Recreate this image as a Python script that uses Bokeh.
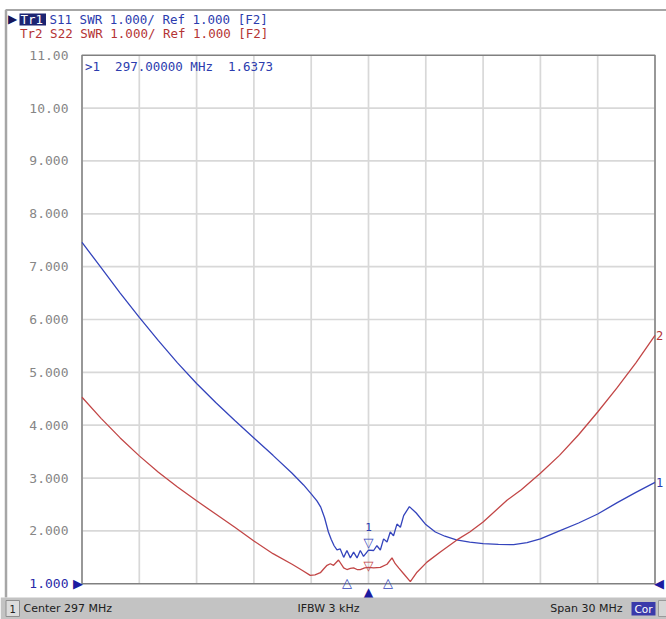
from bokeh.plotting import figure
from bokeh.models import Range1d
from bokeh.embed import file_html
from bokeh.resources import INLINE
from bokeh.core.properties import value

# ---------------- data ----------------
center_mhz = 297
span_mhz = 30
ifbw_khz = 3
f_start, f_stop = 282.0, 312.0
swr_min, swr_max = 1.0, 11.0

x_grid_ticks = [282, 285, 288, 291, 294, 297, 300, 303, 306, 309, 312]
y_grid_ticks = [2, 3, 4, 5, 6, 7, 8, 9, 10]
y_ticks = [2, 3, 4, 5, 6, 7, 8, 9, 10, 11]
y_tick_labels = ["2.000", "3.000", "4.000", "5.000", "6.000", "7.000",
                 "8.000", "9.000", "10.00", "11.00"]
y_ref_label = "1.000"

s11_freq = [282.0, 283.0, 284.0, 285.0, 286.0, 287.0, 288.0, 289.0, 290.0, 291.0,
            292.0, 293.0, 293.6, 294.0, 294.3, 294.5, 294.7, 294.9, 295.05, 295.2,
            295.35, 295.52, 295.7, 295.87, 296.05, 296.22, 296.4, 296.57, 296.74, 297.0,
            297.27, 297.44, 297.62, 297.79, 297.97, 298.14, 298.31, 298.49, 298.67, 298.84,
            299.14, 299.5, 300.0, 300.5, 301.0, 301.6, 302.3, 303.0, 303.8, 304.6,
            305.3, 306.0, 307.0, 308.0, 309.0, 310.0, 311.0, 312.0]
s11_swr = [7.46, 6.98, 6.50, 6.04, 5.60, 5.18, 4.79, 4.43, 4.09, 3.76,
           3.43, 3.09, 2.87, 2.70, 2.57, 2.45, 2.25, 1.98, 1.84, 1.72,
           1.64, 1.66, 1.50, 1.63, 1.49, 1.60, 1.49, 1.63, 1.52, 1.6373,
           1.63, 1.72, 1.64, 1.85, 1.79, 1.98, 1.91, 2.13, 2.07, 2.29,
           2.46, 2.34, 2.12, 1.98, 1.90, 1.83, 1.79, 1.76, 1.745, 1.74,
           1.78, 1.85, 2.00, 2.15, 2.32, 2.53, 2.73, 2.92]

s22_freq = [282.0, 283.0, 284.0, 285.0, 286.0, 287.0, 288.0, 289.0, 290.0, 291.0,
            292.0, 293.0, 293.5, 293.95, 294.2, 294.48, 294.65, 294.83, 295.0, 295.17,
            295.43, 295.7, 295.87, 296.05, 296.22, 296.4, 296.57, 296.8, 297.0, 297.27,
            297.62, 297.97, 298.23, 298.4, 298.58, 298.84, 299.19, 299.54, 300.06, 300.76,
            301.63, 302.3, 303.0, 304.25, 305.0, 306.0, 307.0, 308.0, 309.0, 310.0,
            311.0, 312.0]
s22_swr = [4.53, 4.13, 3.76, 3.42, 3.11, 2.83, 2.57, 2.32, 2.07, 1.81,
           1.57, 1.37, 1.26, 1.16, 1.17, 1.21, 1.28, 1.35, 1.38, 1.35,
           1.45, 1.30, 1.27, 1.29, 1.30, 1.27, 1.27, 1.30, 1.31, 1.30,
           1.31, 1.37, 1.49, 1.38, 1.30, 1.19, 1.04, 1.22, 1.41, 1.60,
           1.83, 1.98, 2.17, 2.58, 2.78, 3.09, 3.43, 3.82, 4.25, 4.70,
           5.18, 5.70]

marker_freq = 297.0
marker1_value = 1.6373
marker2_value = 1.31
delta_freqs = [295.87, 298.02]

# ---------------- styles / layout ----------------
BLUE = "#3444bc"
BLUE_TXT = "#2c3cae"
DARK_BLUE = "#1c1ca0"
RED = "#c24646"
RED_TXT = "#b43434"
GRID = "#d8d8d8"
MONO = "DejaVu Sans Mono"
SANS = "DejaVu Sans"
W, H = 666, 619                          # canvas size
FL, FR, FT, FB = 81.5, 654.5, 54.7, 583.3  # plot area edges in canvas pixels
kx = (FR - FL) / (f_stop - f_start)
ky = (FB - FT) / (swr_max - swr_min)


def X(px):
    """canvas pixel -> data x (for decorations outside the plot area)"""
    return f_start + (px - FL) / kx


def Y(py):
    """canvas pixel (from top) -> data y"""
    return swr_max - (py - FT) / ky


p = figure(width=W, height=H, x_range=Range1d(X(0), X(W)), y_range=Range1d(Y(H), Y(0)),
           x_axis_location=None, y_axis_location=None, min_border=0,
           toolbar_location=None, output_backend="svg", outline_line_color=None)
p.grid.visible = False
p.background_fill_color = "white"
p.border_fill_color = "white"


def txt(x, y, t, color, font=MONO, size="12.5px", align="left", baseline="middle",
        xo=0, yo=0):
    p.text(x=x, y=y, text=t, text_color=color, text_font=value(font),
           text_font_size=value(size), text_align=align, text_baseline=baseline,
           x_offset=xo, y_offset=yo)


# ---- outer panel lines ----
p.segment(x0=[X(5)], y0=[Y(9.5)], x1=[X(W)], y1=[Y(9.5)], line_color="#a6a6a6", line_width=2)
p.segment(x0=[X(5.5)], y0=[Y(9.5)], x1=[X(5.5)], y1=[Y(597)], line_color="#a6a6a6",
          line_width=2.5)

# ---- header ----
txt([X(7.5)], [Y(18.5)], ["\u25B6"], "#15155a", font=SANS, size="12px")
p.quad(left=[X(19)], right=[X(45.5)], top=[Y(13)], bottom=[Y(25)], fill_color="#1c2472",
       line_color=None)
txt([X(20)], [Y(19)], ["Tr1"], "white")
txt([X(49)], [Y(19)], ["S11 SWR 1.000/ Ref 1.000 [F2]"], BLUE_TXT)
txt([X(19.5)], [Y(32.5)], ["Tr2 S22 SWR 1.000/ Ref 1.000 [F2]"], RED_TXT)

# ---- plot area ----
nx, ny = len(x_grid_ticks), len(y_grid_ticks)
p.segment(x0=x_grid_ticks, y0=[swr_min] * nx, x1=x_grid_ticks, y1=[swr_max] * nx,
          line_color=GRID, line_width=1.7)
p.segment(x0=[f_start] * ny, y0=y_grid_ticks, x1=[f_stop] * ny, y1=y_grid_ticks,
          line_color=GRID, line_width=1.7)
p.quad(left=[f_start], right=[f_stop], bottom=[swr_min], top=[swr_max], fill_color=None,
       line_color="#808080", line_width=1.5)

txt([f_start] * len(y_ticks), y_ticks, y_tick_labels, "#868686", size="13px",
    align="right", xo=-13.5)
txt([f_start], [swr_min], [y_ref_label], "#2a2aa8", size="13px", align="right", xo=-13.5)

p.line(s11_freq, s11_swr, line_color=BLUE, line_width=1.3)
p.line(s22_freq, s22_swr, line_color=RED, line_width=1.3)

# delta markers on the bottom line
txt(delta_freqs, [swr_min] * len(delta_freqs), ["\u25B3"] * len(delta_freqs), BLUE,
    font=SANS, size="13px", align="center", baseline="alphabetic", yo=-1)

# trace markers
txt([marker_freq], [marker2_value], ["\u25BD"], RED, font=SANS, size="13px",
    align="center", baseline="alphabetic", yo=-2)
txt([marker_freq], [marker1_value], ["\u25BD"], BLUE, font=SANS, size="13px",
    align="center", baseline="alphabetic", yo=-8)
txt([marker_freq], [marker1_value], ["1"], BLUE_TXT, size="11px", align="center",
    baseline="alphabetic", yo=-23)

readout = f">1\u00a0\u00a0{marker_freq:.5f} MHz\u00a0\u00a0{marker1_value:.4f}"
txt([f_start], [swr_max], [readout], BLUE_TXT, xo=3, yo=11)

# scale arrows
txt([f_start], [swr_min], ["\u25B6"], DARK_BLUE, font=SANS, size="13px", align="right", xo=1)
txt([f_stop], [swr_min], ["\u25C0"], DARK_BLUE, font=SANS, size="13px", align="left", xo=-1)
txt([center_mhz], [swr_min], ["\u25B2"], DARK_BLUE, font=SANS, size="15px", align="center",
    baseline="top", yo=0)

# trace end labels
txt([f_stop], [s22_swr[-1]], ["2"], RED_TXT, size="12px", xo=1)
txt([f_stop], [s11_swr[-1]], ["1"], BLUE_TXT, size="12px", xo=1)

# ---- status bar ----
p.quad(left=[X(0)], right=[X(W)], top=[Y(597)], bottom=[Y(H)], fill_color="#c3c3c3",
       line_color=None)
p.quad(left=[X(5.5)], right=[X(19)], top=[Y(600)], bottom=[Y(616)], fill_color="#dcdcdc",
       line_color="#8e8e8e")
SB = Y(608)
txt([X(12.3)], [SB], ["1"], "#202020", font=SANS, size="10px", align="center")
txt([X(23)], [SB], [f"Center {center_mhz} MHz"], "#202020", font=SANS, size="11px")
txt([X(328)], [SB], [f"IFBW {ifbw_khz} kHz"], "#202020", font=SANS, size="11px", align="center")
txt([X(622)], [SB], [f"Span {span_mhz} MHz"], "#202020", font=SANS, size="11px", align="right")
p.quad(left=[X(631)], right=[X(655)], top=[Y(601.5)], bottom=[Y(615)], fill_color="#3a3aaa",
       line_color=None)
txt([X(643)], [SB], ["Cor"], "white", font=SANS, size="10.5px", align="center")
p.quad(left=[X(658)], right=[X(W)], top=[Y(600)], bottom=[Y(616)], fill_color="#d6d6d6",
       line_color="#9a9a9a")

open("out.html", "w").write(file_html(p, INLINE))
